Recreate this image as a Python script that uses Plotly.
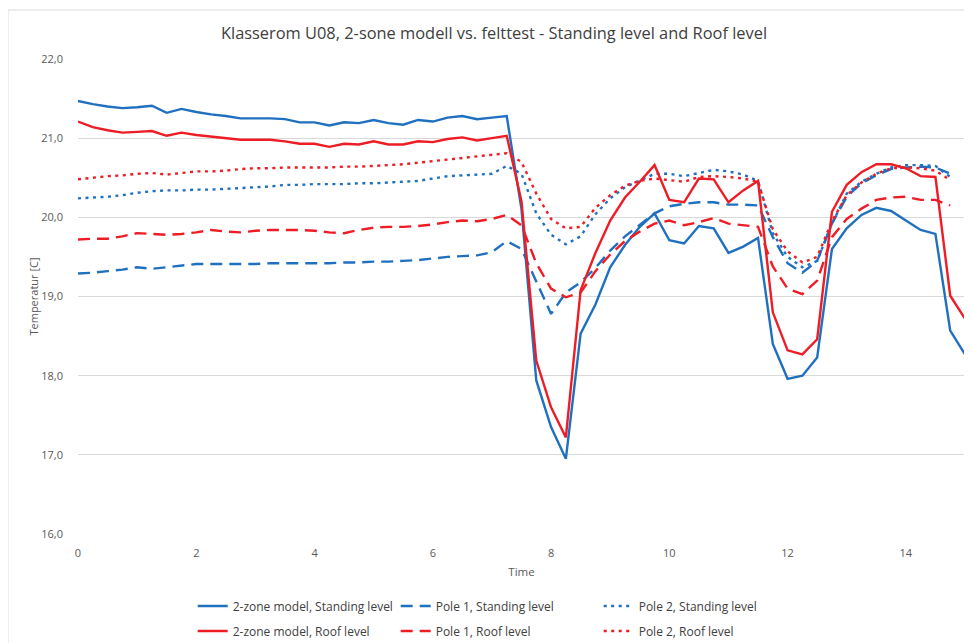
import plotly.graph_objects as go

time = [i * 0.25 for i in range(61)]

model_standing = [21.47, 21.43, 21.40, 21.38, 21.39, 21.41, 21.32, 21.37, 21.33, 21.30,
                  21.28, 21.25, 21.25, 21.25, 21.24, 21.20, 21.20, 21.16, 21.20, 21.19,
                  21.23, 21.19, 21.17, 21.23, 21.21, 21.26, 21.28, 21.24, 21.26, 21.28,
                  20.10, 17.94, 17.35, 16.95, 18.53, 18.90, 19.37, 19.65, 19.88, 20.05,
                  19.71, 19.67, 19.89, 19.86, 19.55, 19.63, 19.74, 18.40, 17.96, 18.00,
                  18.23, 19.60, 19.86, 20.03, 20.12, 20.08, 19.96, 19.84, 19.79, 18.57,
                  18.27]

model_roof = [21.21, 21.14, 21.10, 21.07, 21.08, 21.09, 21.03, 21.07, 21.04, 21.02,
              21.00, 20.98, 20.98, 20.98, 20.96, 20.93, 20.93, 20.89, 20.93, 20.92,
              20.96, 20.92, 20.92, 20.96, 20.95, 20.99, 21.01, 20.97, 21.00, 21.03,
              20.20, 18.19, 17.60, 17.22, 19.08, 19.55, 19.96, 20.25, 20.45, 20.66,
              20.22, 20.19, 20.49, 20.48, 20.19, 20.34, 20.46, 18.80, 18.32, 18.27,
              18.46, 20.07, 20.41, 20.57, 20.67, 20.67, 20.62, 20.52, 20.51, 19.01,
              18.72]

pole1_standing = [19.29, 19.30, 19.32, 19.34, 19.37, 19.35, 19.37, 19.39, 19.41, 19.41,
                  19.41, 19.41, 19.41, 19.42, 19.42, 19.42, 19.42, 19.42, 19.43, 19.43,
                  19.44, 19.44, 19.45, 19.46, 19.48, 19.50, 19.51, 19.52, 19.56, 19.70,
                  19.60, 19.20, 18.78, 19.05, 19.18, 19.36, 19.58, 19.76, 19.91, 20.05,
                  20.14, 20.17, 20.19, 20.19, 20.16, 20.16, 20.15, 19.75, 19.42, 19.30,
                  19.45, 19.92, 20.26, 20.43, 20.53, 20.61, 20.63, 20.64, 20.63, 20.55,
                  None]

pole1_roof = [19.72, 19.73, 19.73, 19.76, 19.80, 19.79, 19.78, 19.79, 19.81, 19.84,
              19.82, 19.81, 19.83, 19.84, 19.84, 19.84, 19.83, 19.81, 19.80, 19.84,
              19.87, 19.88, 19.88, 19.89, 19.91, 19.94, 19.96, 19.95, 19.98, 20.03,
              19.90, 19.42, 19.10, 18.99, 19.05, 19.32, 19.53, 19.70, 19.82, 19.92,
              19.96, 19.90, 19.94, 19.99, 19.92, 19.90, 19.88, 19.38, 19.10, 19.03,
              19.20, 19.75, 19.98, 20.11, 20.22, 20.25, 20.26, 20.22, 20.22, 20.15,
              None]

pole2_standing = [20.24, 20.25, 20.26, 20.28, 20.31, 20.33, 20.34, 20.34, 20.35, 20.35,
                  20.36, 20.37, 20.38, 20.39, 20.41, 20.41, 20.42, 20.42, 20.42, 20.43,
                  20.43, 20.44, 20.45, 20.46, 20.49, 20.52, 20.53, 20.54, 20.55, 20.65,
                  20.55, 20.05, 19.78, 19.66, 19.76, 20.04, 20.24, 20.38, 20.47, 20.55,
                  20.55, 20.52, 20.56, 20.60, 20.58, 20.54, 20.46, 19.80, 19.50, 19.37,
                  19.45, 19.92, 20.30, 20.45, 20.55, 20.63, 20.66, 20.66, 20.65, 20.51,
                  None]

pole2_roof = [20.48, 20.50, 20.52, 20.53, 20.55, 20.56, 20.54, 20.56, 20.58, 20.58,
              20.59, 20.61, 20.62, 20.62, 20.63, 20.63, 20.63, 20.63, 20.64, 20.64,
              20.65, 20.66, 20.67, 20.69, 20.71, 20.73, 20.75, 20.77, 20.79, 20.81,
              20.70, 20.30, 19.98, 19.86, 19.88, 20.12, 20.28, 20.40, 20.46, 20.49,
              20.47, 20.45, 20.51, 20.52, 20.51, 20.49, 20.45, 19.85, 19.57, 19.43,
              19.50, 19.95, 20.28, 20.44, 20.55, 20.62, 20.63, 20.62, 20.59, 20.47,
              None]

BLUE = "#2070c0"
RED = "#ee1c24"
DASH = "12px,7px"
DOT = "3px,4.5px"

series = [
    ("2-zone model, Standing level", model_standing, BLUE, "solid", "legend"),
    ("Pole 1, Standing level", pole1_standing, BLUE, DASH, "legend"),
    ("Pole 2, Standing level", pole2_standing, BLUE, DOT, "legend"),
    ("2-zone model, Roof level", model_roof, RED, "solid", "legend2"),
    ("Pole 1, Roof level", pole1_roof, RED, DASH, "legend2"),
    ("Pole 2, Roof level", pole2_roof, RED, DOT, "legend2"),
]

fig = go.Figure()
for name, vals, color, dash, leg in series:
    fig.add_trace(go.Scatter(
        x=time, y=vals, name=name, mode="lines",
        line=dict(color=color, width=2.4, dash=dash),
        legend=leg,
    ))

FONT = "Open Sans"
legend_common = dict(
    orientation="h", xanchor="left", yanchor="middle",
    xref="container", yref="container",
    entrywidth=158, entrywidthmode="pixels",
    font=dict(family=FONT, size=12, color="#404040"),
    bgcolor="rgba(0,0,0,0)", itemwidth=30, tracegroupgap=0,
)

fig.update_layout(
    width=972, height=643,
    paper_bgcolor="white", plot_bgcolor="white",
    margin=dict(l=70, r=15, t=51, b=117),
    separators=",.",
    title=dict(
        text="Klasserom U08, 2-sone modell vs. felttest - Standing level and Roof level",
        x=0.5, xanchor="center", y=0.961, yanchor="middle",
        font=dict(family=FONT, size=16.4, color="#404040"),
    ),
    xaxis=dict(
        range=[0, 15], dtick=2, tick0=0, showgrid=False, zeroline=False,
        showline=False, ticks="", automargin=False, ticklabelstandoff=11,
        tickfont=dict(family=FONT, size=11, color="#595959"),
        title=dict(text="Time", font=dict(family=FONT, size=11.5, color="#595959"), standoff=8),
    ),
    yaxis=dict(
        range=[16, 22], dtick=1, tickformat=".1f", showgrid=True,
        gridcolor="#d9d9d9", gridwidth=1, zeroline=False, showline=False, ticks="",
        automargin=False, ticklabelstandoff=14,
        tickfont=dict(family=FONT, size=11, color="#595959"),
        title=dict(text="Temperatur [C]", font=dict(family=FONT, size=11, color="#595959"), standoff=0),
    ),
    legend=dict(x=0.19, y=0.070, **legend_common),
    legend2=dict(x=0.19, y=0.031, **legend_common),
    showlegend=True,
)

fig.add_shape(type="rect", xref="paper", yref="paper",
              x0=-0.079, x1=1.1, y0=-0.4, y1=1.103,
              line=dict(color="#d9d9d9", width=1), fillcolor="rgba(0,0,0,0)", layer="below")

fig.write_html("out.html")
